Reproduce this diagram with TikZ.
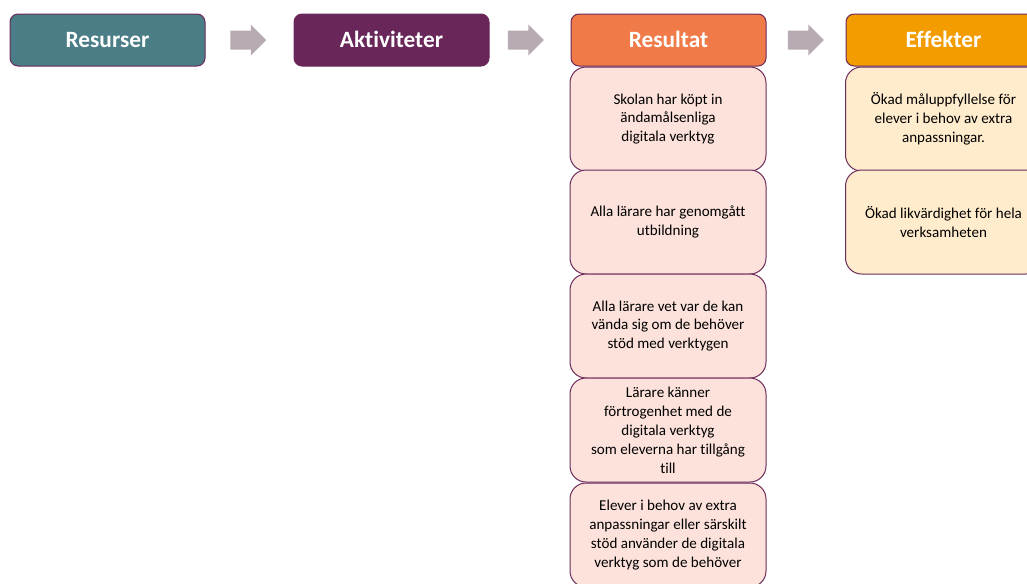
\documentclass[tikz,border=0pt]{standalone}
\usepackage{fontspec}
\setmainfont[Ligatures=NoCommon]{Carlito}
\usetikzlibrary{shapes.arrows}

\definecolor{rimcol}{RGB}{106,42,90}
\definecolor{resurscol}{RGB}{74,125,133}
\definecolor{aktivcol}{RGB}{104,38,89}
\definecolor{resultcol}{RGB}{240,122,72}
\definecolor{effektcol}{RGB}{243,156,0}
\definecolor{resultbg}{RGB}{252,226,218}
\definecolor{effektbg}{RGB}{255,236,204}
\definecolor{pilcol}{RGB}{184,170,178}

\tikzset{every picture/.style={line width=0.75pt}}
\tikzset{
  rubrik/.style={draw=rimcol, rounded corners=6pt, minimum width=146.25pt, minimum height=39pt,
    inner sep=0pt, text height=15pt, text depth=3.5pt, text=white,
    font=\fontsize{17.5}{19}\selectfont\bfseries},
  ruta/.style={draw=rimcol, rounded corners=12pt, minimum width=147pt, minimum height=78pt,
    inner sep=0pt, align=center, font=\fontsize{11.3}{14.2}\selectfont},
  pil/.style={single arrow, fill=pilcol, draw=none, minimum height=27pt, minimum width=22.5pt,
    inner sep=6.75pt, single arrow head extend=4.5pt, single arrow head indent=0pt}
}

\begin{document}
\begin{tikzpicture}[x=0.75pt,y=0.75pt,yscale=-1,xscale=1]
		\useasboundingbox (0,0) rectangle (1027,583);
		\clip (0,0) rectangle (1027,583);

		% Headers
		\node [rubrik, fill=resurscol] (resurser) at (107.5,40) {Resurser};
		\node [rubrik, fill=aktivcol] (aktiviteter) at (391.5,40) {Aktiviteter};
		\node [rubrik, fill=resultcol] (resultat) at (668.5,40) {Resultat};
		\node [rubrik, fill=effektcol] (effekter) at (943.5,40) {Effekter};

		% Arrows
		\node [pil] (pil1) at (243.5,40) {};
		\node [pil] (pil2) at (521,40) {};
		\node [pil] (pil3) at (801,40) {};

		% Resultat
		\node [ruta, fill=resultbg] (res1) at (668,119) {Skolan har köpt in\\ ändamålsenliga\\ digitala verktyg};
		\node [ruta, fill=resultbg] (res2) at (668,222) {Alla lärare har genomgått\\ utbildning};
		\node [ruta, fill=resultbg] (res3) at (668,326) {Alla lärare vet var de kan\\ vända sig om de behöver\\ stöd med verktygen};
		\node [ruta, fill=resultbg] (res4) at (668,430) {Lärare känner\\ förtrogenhet med de\\ digitala verktyg\\ som eleverna har tillgång\\ till};
		\node [ruta, fill=resultbg] (res5) at (668,535) {Elever i behov av extra\\ anpassningar eller särskilt\\ stöd använder de digitala\\ verktyg som de behöver};

		% Effekter
		\node [ruta, fill=effektbg] (eff1) at (943.5,119) {Ökad måluppfyllelse för\\ elever i behov av extra\\ anpassningar.};
		\node [ruta, fill=effektbg] (eff2) at (943.5,222) {Ökad likvärdighet för hela\\ verksamheten};
	\end{tikzpicture}
\end{document}
